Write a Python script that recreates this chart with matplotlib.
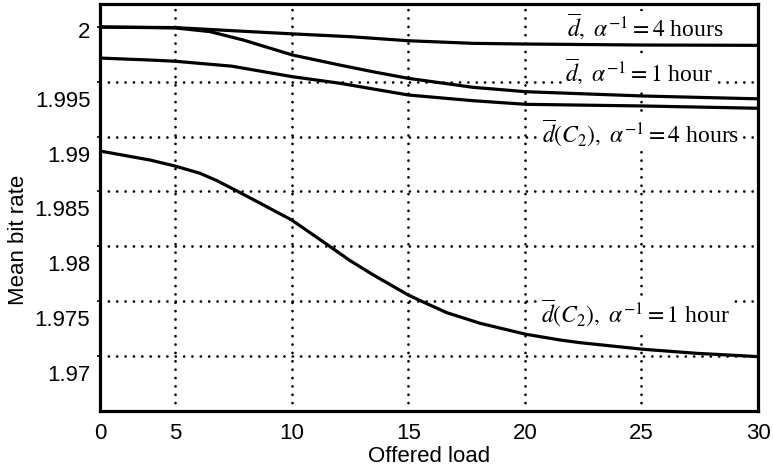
import matplotlib.pyplot as plt
import matplotlib.transforms as mtransforms
import numpy as np

plt.rcParams['font.family'] = 'Liberation Sans'
plt.rcParams['mathtext.fontset'] = 'stix'

# d-bar, alpha^-1 = 4 hours
load_a = [0, 5, 7.5, 10, 12.5, 15, 17.8, 20, 25, 30]
rate_a = [2.0, 1.99995, 1.99966, 1.99938, 1.99912, 1.99875, 1.99851, 1.99845, 1.99836, 1.99833]
# d-bar, alpha^-1 = 1 hour
load_b = [0, 5, 6.5, 7.93, 10.03, 12.07, 13.49, 15, 17.78, 20.05, 25.07, 30]
rate_b = [2.0, 1.99992, 1.99958, 1.99881, 1.99745, 1.99653, 1.99592, 1.99532, 1.9945,
          1.9941, 1.99371, 1.99345]
# d-bar(C2), alpha^-1 = 4 hours
load_c = [0, 3.33, 5, 7.43, 10.03, 12.07, 15, 17.78, 20.05, 25.07, 30]
rate_c = [1.99717, 1.99699, 1.99688, 1.99643, 1.99547, 1.99487, 1.9938, 1.99328, 1.99295,
          1.9928, 1.99259]
# d-bar(C2), alpha^-1 = 1 hour
load_d = [0, 3.33, 5, 6.07, 6.79, 7.65, 8.79, 10, 10.79, 11.65, 12.5, 13.5, 15, 15.5, 16.65,
          18.08, 20.04, 21.5, 22.37, 25.07, 27.37, 30]
rate_d = [1.98869, 1.98787, 1.98732, 1.98666, 1.98599, 1.98505, 1.98377, 1.9824, 1.98124, 1.97997,
          1.9787, 1.97739, 1.97556, 1.97506, 1.97395, 1.97298, 1.97198, 1.97146, 1.97121, 1.97061,
          1.97024, 1.96994]

xticks = [0, 5, 10, 15, 20, 25, 30]
yticks = [2.0, 1.995, 1.99, 1.985, 1.98, 1.975, 1.97]
ylabels = ['2', '1.995', '1.99', '1.985', '1.98', '1.975', '1.97']

labels = [r'$\overline{d},\ \alpha^{-1} = 4$ hours',
          r'$\overline{d},\ \alpha^{-1} = 1$ hour',
          r'$\overline{d}\left(C_2\right),\ \alpha^{-1} = 4$ hours',
          r'$\overline{d}\left(C_2\right),\ \alpha^{-1} = 1$ hour']
label_pos = [(0.828, 0.943), (0.819, 0.833), (0.822, 0.683), (0.813, 0.241)]

fig = plt.figure(figsize=(7.73, 4.71), dpi=100)
ax = fig.add_axes([0.1294, 0.1274, 0.8512, 0.8641])

# the first 5 units of load are squeezed in the original figure
fwd = lambda x: np.interp(x, [0, 5, 31], [1.78, 5, 31])
inv = lambda x: np.interp(x, [1.78, 5, 31], [0, 5, 31])
ax.set_xscale('function', functions=(fwd, inv))

for xs, ys in [(load_a, rate_a), (load_b, rate_b), (load_c, rate_c), (load_d, rate_d)]:
    ax.plot(xs, ys, color='black', lw=2.3, zorder=3)

dots = dict(color='black', lw=2.0, ls=(0, (0.01, 3)), dash_capstyle='round', zorder=1)
for v in xticks[1:-1]:
    ax.axvline(v, **dots)
for v in yticks[1:]:
    ax.axhline(v, **dots)

for txt, (px, py) in zip(labels, label_pos):
    ax.text(px, py, txt, transform=ax.transAxes, ha='center', va='center',
            fontsize=17, family='Liberation Serif', zorder=2.5,
            bbox=dict(facecolor='white', edgecolor='none', pad=1))

ax.set_xlim(0, 30)
ax.set_ylim(1.96498, 2.0021)
ax.set_xticks(xticks)
ax.set_yticks(yticks, ylabels)
ax.tick_params(axis='x', length=0, pad=9, labelsize=16)
ax.tick_params(axis='y', length=2.5, width=1.2, direction='out', pad=4.5, labelsize=16)
for s in ax.spines.values():
    s.set_linewidth(2.3)

# tick labels sit lower than their ticks in the original
for i, lab in enumerate(ax.get_yticklabels()):
    dy = -3 if i == 0 else -17
    off = mtransforms.ScaledTranslation(0, dy / 100, fig.dpi_scale_trans)
    lab.set_transform(lab.get_transform() + off)

ax.set_xlabel('Offered load', fontsize=16, labelpad=1)
ax.set_ylabel('Mean bit rate', fontsize=16)
ax.yaxis.set_label_coords(-0.108, 0.42)

fig.savefig('out.png', dpi=100)
